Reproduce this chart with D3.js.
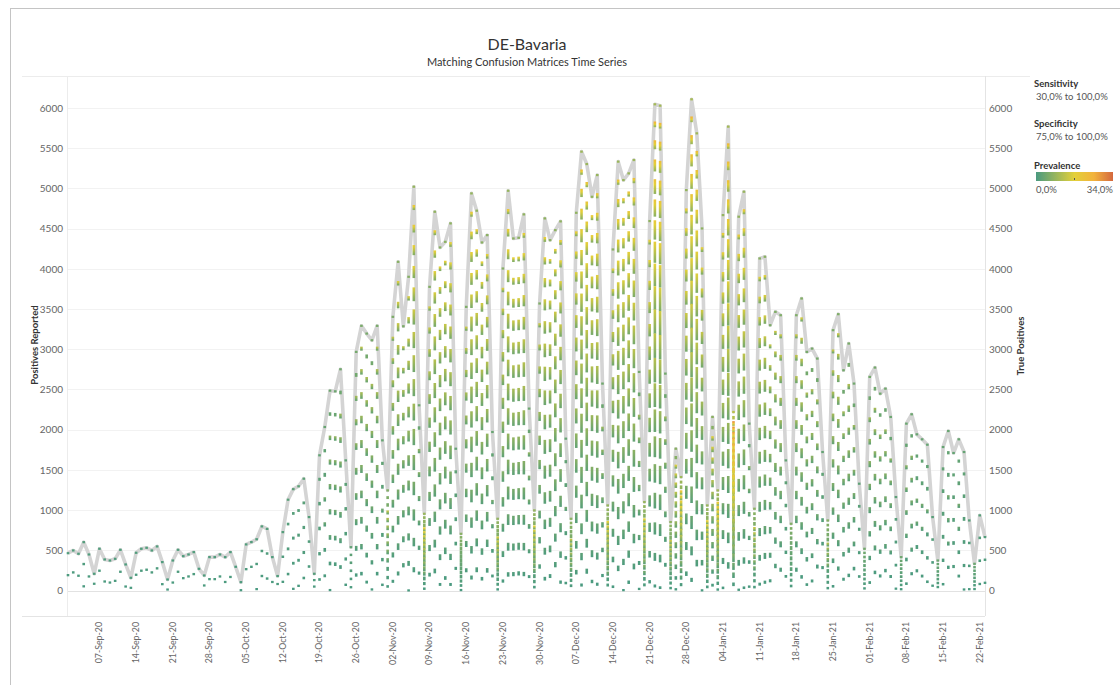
<!DOCTYPE html>
<html><head><meta charset="utf-8">
<script src="https://cdn.jsdelivr.net/npm/d3@7"></script>
<style>
body{margin:0;background:#fff;}
svg{display:block;font-family:Lato,"Open Sans",sans-serif;}
</style></head><body>
<svg id="chart" width="1120" height="685"></svg>
<script>
// ---------------- data ----------------
const startDate = "2020-09-01";
// daily positives reported (grey line), 01-Sep-20 .. 23-Feb-21
const positivesReported = [
  464, 498, 457, 601, 448, 208, 519,
  386, 373, 394, 506, 324, 158, 469,
  519, 531, 498, 548, 353, 137, 373,
  506, 427, 448, 477, 270, 187, 415,
  415, 448, 415, 477, 295, 104, 573,
  602, 637, 797, 766, 415, 180, 726,
  1129, 1260, 1296, 1390, 913, 208, 1681,
  2033, 2485, 2477, 2751, 1618, 539, 2967,
  3291, 3195, 3112, 3291, 1867, 1245, 3403,
  4087, 3286, 3901, 5021, 2303, 954, 3776,
  4710, 4266, 4336, 4565, 1763, 705, 3527,
  4938, 4723, 4328, 4419, 1971, 892, 4004,
  4971, 4378, 4386, 4677, 2262, 996, 3569,
  4627, 4357, 4481, 4590, 1888, 892, 4697,
  5457, 5303, 4896, 5166, 2573, 1058, 4241,
  5333, 5104, 5187, 5353, 2718, 1100, 4594,
  6046, 6029, 2697, 851, 1763, 1411, 4979,
  6108, 5685, 4502, 1058, 2158, 1245, 4668,
  5768, 2220, 4648, 4959, 2075, 1017, 4129,
  4150, 3299, 3465, 3423, 1618, 830, 3423,
  3631, 2967, 3008, 2884, 1722, 871, 3237,
  3436, 2739, 3071, 2573, 1328, 519, 2656,
  2772, 2448, 2510, 2158, 1162, 415, 2075,
  2191, 1942, 1880, 1813, 913, 373, 1784,
  1983, 1710, 1880, 1722, 871, 332, 934,
  664
];
// estimated tests per day (drives the spacing of the confusion-matrix marks)
const testsPerDay = [
  55000, 55000, 55000, 55000, 55000, 25000, 55000,
  55000, 55000, 55000, 55000, 55000, 25000, 55000,
  55000, 55000, 55000, 55000, 55000, 25000, 55000,
  55000, 55000, 55000, 55000, 55000, 25000, 55000,
  55000, 55000, 62000, 62000, 62000, 20000, 62000,
  62000, 62000, 62000, 62000, 62000, 20000, 62000,
  62000, 62000, 62000, 62000, 62000, 16000, 62000,
  62000, 62000, 62000, 62000, 62000, 20000, 62000,
  62000, 62000, 62000, 62000, 60000, 20000, 60000,
  60000, 60000, 60000, 60000, 60000, 11000, 60000,
  60000, 60000, 60000, 60000, 60000, 10000, 60000,
  60000, 60000, 60000, 60000, 60000, 11000, 60000,
  60000, 60000, 60000, 60000, 60000, 12000, 60000,
  60000, 60000, 60000, 60000, 60000, 12000, 60000,
  60000, 60000, 60000, 60000, 60000, 12500, 60000,
  60000, 60000, 60000, 60000, 60000, 13000, 60000,
  60000, 60000, 60000, 11000, 25000, 15000, 60000,
  60000, 60000, 60000, 12000, 30000, 13000, 58000,
  58000, 18000, 58000, 58000, 58000, 14000, 58000,
  58000, 58000, 58000, 58000, 58000, 13000, 58000,
  58000, 58000, 58000, 58000, 58000, 13000, 58000,
  58000, 58000, 58000, 58000, 58000, 11000, 57000,
  57000, 57000, 57000, 57000, 57000, 10000, 57000,
  57000, 57000, 57000, 57000, 57000, 9500, 57000,
  57000, 57000, 57000, 57000, 57000, 9000, 57000,
  57000
];
const sensitivityLevels = [1.00, 0.90, 0.80, 0.70, 0.60, 0.55, 0.50, 0.45, 0.40];
const specificityLevels = [1.000, 0.995, 0.990, 0.985, 0.980, 0.975, 0.970, 0.965, 0.960, 0.955,
  0.950, 0.945, 0.940, 0.935, 0.930, 0.925, 0.920, 0.915, 0.910, 0.905,
  0.900, 0.895, 0.890, 0.885, 0.880, 0.875, 0.870, 0.865, 0.860, 0.855,
  0.850, 0.845, 0.840, 0.835, 0.830, 0.825, 0.820, 0.815, 0.810, 0.805,
  0.800, 0.795, 0.790, 0.785, 0.780, 0.775, 0.770, 0.765, 0.760, 0.755, 0.750];
const prevalenceMax = 0.34;
const yTicks = [0, 500, 1000, 1500, 2000, 2500, 3000, 3500, 4000, 4500, 5000, 5500, 6000];
const xTickStart = "2020-09-07", xTickEnd = "2021-02-23";
const prevalenceStops = [0, 0.17, 0.255, 0.34];
const prevalenceColors = ["#4a9a80", "#e3d03a", "#f2b33c", "#d4683e"];

// ---------------- chart ----------------
const svg = d3.select("#chart");
const parse = d3.utcParse("%Y-%m-%d");
const t0 = parse(startDate);
const dates = positivesReported.map((_, i) => d3.utcDay.offset(t0, i));

const x = d3.scaleUtc().domain([dates[0], dates[dates.length - 1]]).range([68, 985]);
const y = d3.scaleLinear().domain([0, 6000]).range([590.5, 108]);
const color = d3.scaleLinear().domain(prevalenceStops).range(prevalenceColors).clamp(true);

// frame
svg.append("line").attr("x1", 10).attr("x2", 1120).attr("y1", 8.5).attr("y2", 8.5).attr("stroke", "#c4c4c4");
svg.append("line").attr("x1", 10.5).attr("x2", 10.5).attr("y1", 8).attr("y2", 685).attr("stroke", "#c4c4c4");
svg.append("line").attr("x1", 22).attr("x2", 1030).attr("y1", 76.5).attr("y2", 76.5).attr("stroke", "#ececec");
svg.append("line").attr("x1", 22).attr("x2", 985).attr("y1", 616.5).attr("y2", 616.5).attr("stroke", "#e4e4e4");
svg.append("line").attr("x1", 67.5).attr("x2", 67.5).attr("y1", 76).attr("y2", 616).attr("stroke", "#ececec");
svg.append("line").attr("x1", 985.5).attr("x2", 985.5).attr("y1", 76).attr("y2", 616).attr("stroke", "#e4e4e4");

// titles
svg.append("text").attr("x", 527).attr("y", 50).attr("text-anchor", "middle")
  .attr("font-size", 16).attr("fill", "#333").text("DE-Bavaria");
svg.append("text").attr("x", 527).attr("y", 65.5).attr("text-anchor", "middle")
  .attr("font-size", 11).attr("fill", "#333").text("Matching Confusion Matrices Time Series");

// grid + y axes
const grid = svg.append("g");
grid.selectAll("line").data(yTicks).join("line")
  .attr("x1", 68).attr("x2", 985)
  .attr("y1", d => Math.round(y(d)) + 0.5).attr("y2", d => Math.round(y(d)) + 0.5)
  .attr("stroke", d => d === 0 ? "#e2e2e2" : "#f2f2f2");

const tickFmt = d3.format("d");
const yAxisL = d3.axisLeft(y).tickValues(yTicks).tickFormat(tickFmt).tickSize(0).tickPadding(0);
svg.append("g").attr("transform", "translate(63,0)").call(yAxisL)
  .call(g => g.select(".domain").remove())
  .call(g => g.selectAll("text").attr("font-size", 10).attr("fill", "#666").attr("font-family", "Lato"));
const yAxisR = d3.axisRight(y).tickValues(yTicks).tickFormat(tickFmt).tickSize(0).tickPadding(0);
svg.append("g").attr("transform", "translate(989,0)").call(yAxisR)
  .call(g => g.select(".domain").remove())
  .call(g => g.selectAll("text").attr("font-size", 10).attr("fill", "#666").attr("font-family", "Lato"));

svg.append("text").attr("transform", "translate(37.5,345) rotate(-90)").attr("text-anchor", "middle")
  .attr("font-size", 9.5).attr("font-weight", "bold").attr("fill", "#333").text("Positives Reported");
svg.append("text").attr("transform", "translate(1024,346) rotate(-90)").attr("text-anchor", "middle")
  .attr("font-size", 9.5).attr("font-weight", "bold").attr("fill", "#333").text("True Positives");

// x axis
const xTicks = d3.utcMonday.range(parse(xTickStart), parse(xTickEnd));
const fmt = d3.utcFormat("%d-%b-%y");
svg.append("g").selectAll("text").data(xTicks).join("text")
  .attr("transform", d => `translate(${x(d)},622) rotate(-90)`)
  .attr("text-anchor", "end").attr("dy", "0.33em")
  .attr("font-size", 8.8).attr("fill", "#666").text(d => fmt(d));

// grey line: positives reported
const line = d3.line().x((d, i) => x(dates[i])).y(d => y(d));
svg.append("path").datum(positivesReported).attr("d", line)
  .attr("fill", "none").attr("stroke", "#d4d4d4").attr("stroke-width", 3.6)
  .attr("stroke-linejoin", "round");

// confusion matrix marks: for each specificity, sensitivities give a range of true positives
const pad = 1.1;
const dashes = [];
dates.forEach((d, i) => {
  const P = positivesReported[i], N = testsPerDay[i];
  specificityLevels.forEach(sp => {
    const fpr = 1 - sp;
    const X = P - fpr * N;
    if (X < 0) return;
    const pts = sensitivityLevels.filter(se => se > fpr + 1e-9)
      .map(se => ({ tp: se * X / (se - fpr), p: X / (N * (se - fpr)) }))
      .filter(q => q.p <= prevalenceMax && q.p >= 0);
    if (!pts.length) return;
    const tpMin = d3.min(pts, q => q.tp), tpMax = d3.max(pts, q => q.tp);
    const yTop = y(tpMax) - pad, yBot = y(tpMin) + pad;
    dashes.push({ date: d, pts, yTop, yBot, h: yBot - yTop, id: "g" + dashes.length });
  });
});

const defs = svg.append("defs");
const withGrad = dashes.filter(d => d.h > 4);
const grads = defs.selectAll("linearGradient").data(withGrad).join("linearGradient")
  .attr("id", d => d.id).attr("x1", 0).attr("y1", 1).attr("x2", 0).attr("y2", 0);
grads.selectAll("stop").data(d => d.pts.map(q => ({ off: (d.yBot - y(q.tp)) / d.h, p: q.p })))
  .join("stop").attr("offset", q => Math.max(0, Math.min(1, q.off))).attr("stop-color", q => color(q.p));

svg.append("g").selectAll("rect").data(dashes).join("rect")
  .attr("x", d => x(d.date) - 1.3).attr("width", 2.6)
  .attr("y", d => d.yTop).attr("height", d => d.h)
  .attr("fill", d => d.h > 4 ? `url(#${d.id})` : color(d.pts[0].p));

// legend
const lg = svg.append("g").attr("font-size", 9.5).attr("fill", "#333");
lg.append("text").attr("x", 1034).attr("y", 87).attr("font-weight", "bold").text("Sensitivity");
lg.append("text").attr("x", 1036).attr("y", 100).attr("fill", "#555").text("30,0% to 100,0%");
lg.append("text").attr("x", 1034).attr("y", 127).attr("font-weight", "bold").text("Specificity");
lg.append("text").attr("x", 1036).attr("y", 140).attr("fill", "#555").text("75,0% to 100,0%");
lg.append("text").attr("x", 1034).attr("y", 168.5).attr("font-weight", "bold").text("Prevalence");
const lgGrad = defs.append("linearGradient").attr("id", "lgGrad");
lgGrad.selectAll("stop").data(prevalenceStops).join("stop")
  .attr("offset", d => d / prevalenceMax).attr("stop-color", (d, i) => prevalenceColors[i]);
lg.append("rect").attr("x", 1036).attr("y", 172).attr("width", 77).attr("height", 9).attr("fill", "url(#lgGrad)");
lg.append("rect").attr("x", 1074).attr("y", 178).attr("width", 1).attr("height", 2).attr("fill", "#555");
lg.append("text").attr("x", 1036).attr("y", 192.5).attr("fill", "#555").text("0,0%");
lg.append("text").attr("x", 1113).attr("y", 192.5).attr("text-anchor", "end").attr("fill", "#555").text("34,0%");
</script>
</body></html>
